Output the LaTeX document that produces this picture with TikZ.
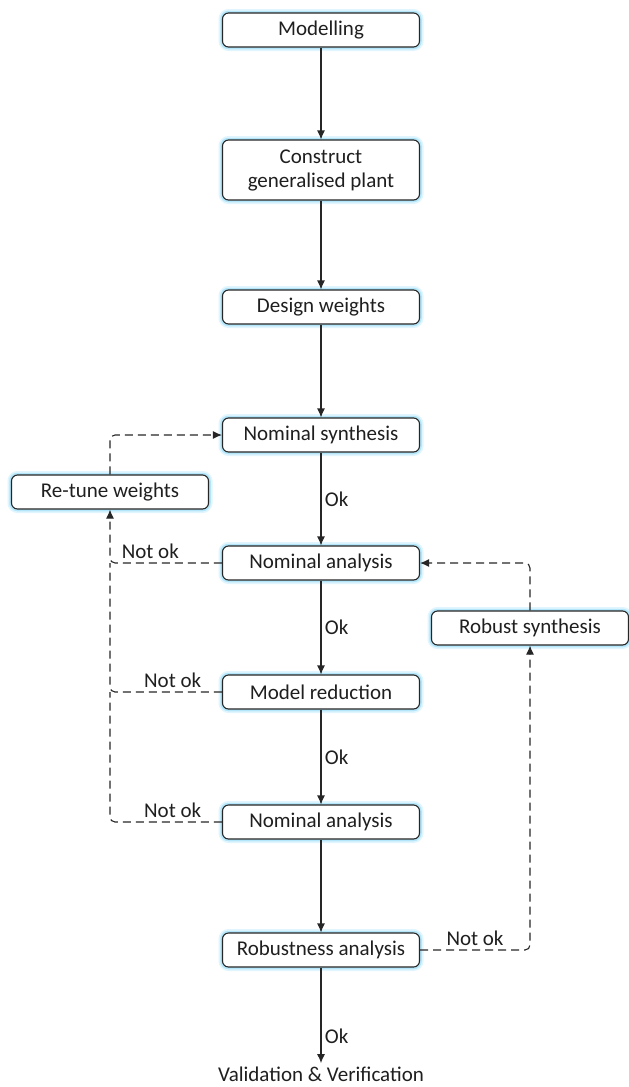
\documentclass[tikz,border=0pt]{standalone}
\usepackage{fontspec}
\setmainfont{Carlito}
\usetikzlibrary{arrows.meta}
\begin{document}
\begin{tikzpicture}[x=1pt,y=-1pt,
    box/.style={draw=black!85, line width=1.1pt, rounded corners=6pt, minimum width=197pt, minimum height=34pt,
      align=center, font=\fontsize{21}{24}\selectfont, text=black!88, fill=white,
      preaction={draw=cyan!12, line width=8pt},
      preaction={draw=cyan!30, line width=4.5pt}},
    flow/.style={-{Latex[length=9pt,width=8pt]}, black!85, line width=1.1pt},
    back/.style={flow, dash pattern=on 8pt off 5pt, rounded corners=5pt},
    lbl/.style={font=\fontsize{21}{24}\selectfont, text=black!88}]
        \useasboundingbox (0,0) rectangle (629,1087);

        \node[box] (model) at (321,30) {Modelling};
        \node[box, minimum height=60pt] (plant) at (321,170) {Construct\\generalised plant};
        \node[box] (weights) at (321,307) {Design weights};
        \node[box] (nsyn) at (321,435) {Nominal synthesis};
        \node[box] (retune) at (110,492) {Re-tune weights};
        \node[box] (nan1) at (321,563) {Nominal analysis};
        \node[box] (rsyn) at (530,628) {Robust synthesis};
        \node[box] (mred) at (321,692) {Model reduction};
        \node[box] (nan2) at (321,822) {Nominal analysis};
        \node[box] (rob) at (321,950) {Robustness analysis};
        \node[lbl] (valid) at (321,1074) {Validation \& Verification};

        \coordinate (j1) at (retune.south |- nan1.west);
        \coordinate (j2) at (retune.south |- mred.west);

        % main line
        \draw[flow] (model) -- (plant);
        \draw[flow] (plant) -- (weights);
        \draw[flow] (weights) -- (nsyn);
        \draw[flow] (nsyn) -- node[lbl, right] {Ok} (nan1);
        \draw[flow] (nan1) -- node[lbl, right] {Ok} (mred);
        \draw[flow] (mred) -- node[lbl, right] {Ok} (nan2);
        \draw[flow] (nan2) -- (rob);
        \draw[flow] (rob) -- node[lbl, right, pos=0.72] {Ok} (valid);

        % loops
        \draw[back] (nan1.west) -| node[lbl, above, pos=0.32] {Not ok} (retune.south);
        \draw[back, -] (mred.west) -| node[lbl, above, pos=0.22] {Not ok} (j1);
        \draw[back, -] (nan2.west) -| node[lbl, above, pos=0.22] {Not ok} (j2);
        \draw[back] (retune.north) |- (nsyn.west);
        \draw[back] (rob.east) -| node[lbl, above, pos=0.25] {Not ok} (rsyn.south);
        \draw[back] (rsyn.north) |- (nan1.east);
    \end{tikzpicture}
\end{document}
